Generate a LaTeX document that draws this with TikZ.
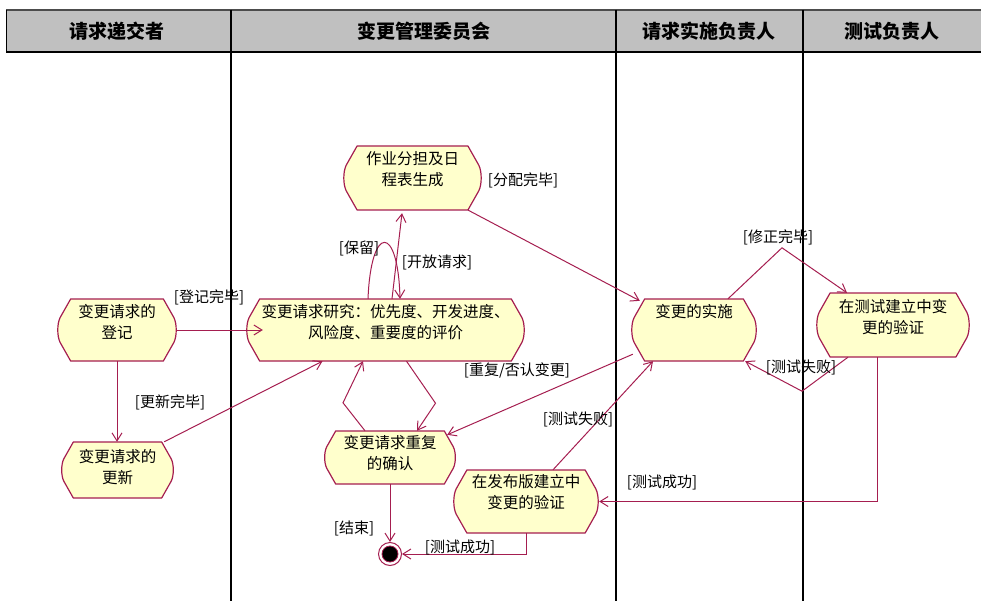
\documentclass[tikz,border=0pt]{standalone}
\usepackage{fontspec}
\setmainfont{Noto Sans CJK SC}
\usetikzlibrary{arrows.meta,calc}
\definecolor{lc}{RGB}{165,30,80}
\definecolor{af}{RGB}{255,255,204}
\definecolor{hf}{RGB}{192,192,192}
\tikzset{
 actbox/.style={rectangle, inner sep=0pt, draw=none},
 actline/.style={draw=lc, line width=1.2pt, fill=af, line join=round},
 acttext/.style={align=center, font=\fontsize{15.5}{21}\selectfont, inner sep=0pt},
 lbl/.style={font=\fontsize{15}{18}\selectfont, inner sep=0pt},
 conn/.style={draw=lc, line width=1pt, -{Straight Barb[length=8pt,width=10pt]}},
 hdtext/.style={font=\fontsize{19}{21}\selectfont\bfseries, inner sep=0pt},
 lane/.style={draw=black, line width=1.2pt},
}
% #1 name, #2 cx, #3 cy, #4 w, #5 h, #6 text, #7 text offset (down positive)
\newcommand\act[7]{%
 \node[actbox, minimum width=#4pt, minimum height=#5pt] (#1) at (#2,#3) {};
 \path[actline] ({#2-#4/2+0.22*#5},{#3-#5/2}) -- ({#2+#4/2-0.22*#5},{#3-#5/2})
   -- ({#2+#4/2-0.05*#5},{#3-0.2*#5})
   .. controls ({#2+#4/2},{#3-0.1*#5}) and ({#2+#4/2},{#3+0.1*#5}) .. ({#2+#4/2-0.05*#5},{#3+0.2*#5})
   -- ({#2+#4/2-0.22*#5},{#3+#5/2}) -- ({#2-#4/2+0.22*#5},{#3+#5/2})
   -- ({#2-#4/2+0.05*#5},{#3+0.2*#5})
   .. controls ({#2-#4/2},{#3+0.1*#5}) and ({#2-#4/2},{#3-0.1*#5}) .. ({#2-#4/2+0.05*#5},{#3-0.2*#5})
   -- cycle;
 \node[acttext] (#1-t) at (#2,{#3+#7}) {#6};
}
\begin{document}
\begin{tikzpicture}[x=1pt,y=-1pt]
\useasboundingbox (0,0) rectangle (981,601);
% header
\fill[hf] (6,10) rectangle (981,52);
\draw[line width=2pt, black!70] (6,10) -- (981,10);
\draw[line width=2pt, black] (6,52) -- (981,52);
\draw[line width=1pt, black] (6,10) -- (6,52);
\draw[lane] (231,10) -- (231,601);
\draw[lane] (616,10) -- (616,601);
\draw[lane] (803,10) -- (803,601);
\node[hdtext] (h1) at (117,31) {请求递交者};
\node[hdtext] (h2) at (424,31) {变更管理委员会};
\node[hdtext] (h3) at (709,31) {请求实施负责人};
\node[hdtext] (h4) at (892,31) {测试负责人};
% activities
\act{dj}{117}{330}{120}{62}{变更请求的\\登记}{-8}
\act{yj}{385.5}{330}{279}{62}{变更请求研究：优先度、开发进度、\\风险度、重要度的评价}{-7.5}
\act{zy}{412.5}{178}{139}{64}{作业分担及日\\程表生成}{-9}
\act{gx}{117.5}{470}{113}{56}{变更请求的\\更新}{-3}
\act{cf}{390}{457.5}{132}{53}{变更请求重复\\的确认}{-4.5}
\act{fb}{526}{501.5}{146}{63}{在发布版建立中\\变更的验证}{-9}
\act{ss}{694}{330}{126}{62}{变更的实施}{-18}
\act{cs}{893}{325}{154}{64}{在测试建立中变\\更的验证}{-8}
% final node
\node[circle, draw=lc, line width=1pt, minimum size=23pt, inner sep=0pt] (fin) at (390,554) {};
\node[circle, fill=black, draw=lc, line width=0.8pt, minimum size=16pt, inner sep=0pt] (fin-in) at (fin.center) {};
% connectors
\draw[conn] (dj.east) -- ($(yj.west)+(17,0)$);
\draw[conn] (dj.south) -- (dj.south |- gx.north);
\draw[conn] ($(gx.north east)+(-10,0)$) -- ($(yj.south)+(-63,0)$);
\draw[conn] ($(yj.north)+(6.5,0)$) -- ($(zy.south)+(-10.5,3)$);
\draw[conn] ($(yj.north)+(-17.5,0)$) .. controls +(3,-75) and +(-2,-75) .. ($(yj.north)+(14.5,0)$);
\draw[conn] ($(zy.south east)+(-14,0)$) -- ($(ss.north west)+(9,2)$);
\draw[conn] ($(cf.north)+(-25,0)$) -- ++(-22,-28) -- ($(yj.south)+(-22.5,0)$);
\draw[conn] ($(yj.south)+(21,0)$) -- ++(29,42) -- ($(cf.north)+(27,0)$);
\draw[conn] ($(ss.south west)+(2,-7)$) -- ($(cf.north east)+(-9,4)$);
\draw[conn] ($(fb.north)+(27,0)$) -- ($(ss.south)+(-41,0)$);
\draw[conn] (cf.south) -- (fin.north);
\draw[conn] (fb.south) |- (fin.east);
\draw[conn] ($(ss.north)+(34,0)$) -- ++(54,-51) -- ($(cs.north)+(-46,0)$);
\draw[conn] ($(cs.south)+(-45,0)$) -- ++(-46,34) -- ($(ss.south east)+(-12,0)$);
\draw[conn] ($(cs.south)+(-16,0)$) |- (fb.east);
% labels
\node[lbl] (l1) at (209,297) {[登记完毕]};
\node[lbl] (l2) at (170,402) {[更新完毕]};
\node[lbl] (l3) at (437,262) {[开放请求]};
\node[lbl] (l4) at (359,248) {[保留]};
\node[lbl] (l5) at (523,180) {[分配完毕]};
\node[lbl] (l6) at (517,370) {[重复/否认变更]};
\node[lbl] (l7) at (578,419) {[测试失败]};
\node[lbl] (l8) at (460,547) {[测试成功]};
\node[lbl] (l9) at (354,528) {[结束]};
\node[lbl] (l10) at (778,237) {[修正完毕]};
\node[lbl] (l11) at (801,367) {[测试失败]};
\node[lbl] (l12) at (662,482) {[测试成功]};
\end{tikzpicture}
\end{document}
